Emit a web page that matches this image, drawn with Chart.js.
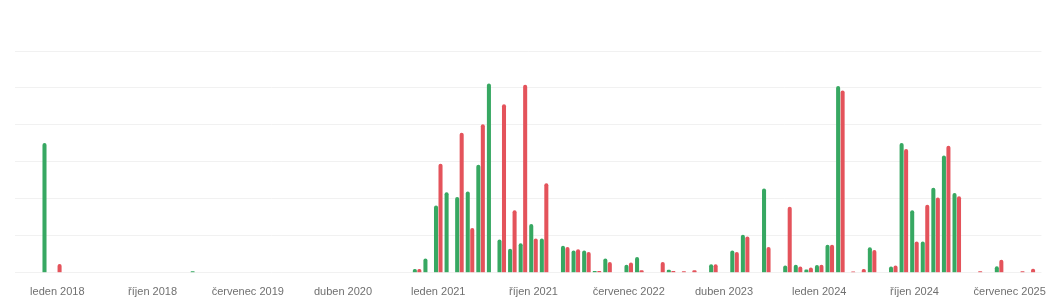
<!DOCTYPE html>
<html>
<head>
<meta charset="utf-8">
<script src="https://cdn.jsdelivr.net/npm/chart.js@4/dist/chart.umd.min.js"></script>
<style>
    body { margin: 0; background: #fff; }
    #wrap { width: 1050px; height: 303px; }
</style>
</head>
<body>
<div id="wrap"><canvas id="monthChart"></canvas></div>
<script>
const monthNames = ['leden', 'únor', 'březen', 'duben', 'květen', 'červen',
    'červenec', 'srpen', 'září', 'říjen', 'listopad', 'prosinec'];

// categories: prosinec 2017 ... září 2025
const months = ['prosinec 2017'];
for (let y = 2018; y <= 2025; y++) {
    for (let m = 0; m < 12; m++) {
        if (y === 2025 && m > 8) break;
        months.push(monthNames[m] + ' ' + y);
    }
}

const greenValues = [
    35.1,
    0, 0, 0, 0, 0, 0, 0, 0, 0, 0, 0, 0,
    0, 0.4, 0, 0, 0, 0, 0, 0, 0, 0, 0, 0,
    0, 0, 0, 0, 0, 0, 0, 0, 0, 0, 1.0, 3.9,
    18.2, 21.8, 20.5, 22.0, 29.2, 51.2, 9.0, 6.5, 8.0, 13.2, 9.3, 0,
    7.3, 6.0, 6.0, 0.5, 3.9, 0, 2.2, 4.3, 0, 0, 0.8, 0,
    0, 0, 2.3, 0, 6.0, 10.3, 0, 22.8, 0, 2.0, 2.2, 0.9,
    2.1, 7.6, 50.5, 0, 0, 6.9, 0, 1.7, 35.1, 16.9, 8.5, 23.0,
    31.7, 21.6, 0, 0, 0, 1.8, 0, 0, 0
];

const redValues = [
    0,
    2.4, 0, 0, 0, 0, 0, 0, 0, 0, 0, 0, 0,
    0, 0, 0, 0, 0, 0, 0, 0, 0, 0, 0, 0,
    0, 0, 0, 0, 0, 0, 0, 0, 0, 0, 1.0, 0,
    29.5, 0, 37.9, 12.1, 40.2, 0, 45.6, 16.9, 50.9, 9.3, 24.2, 0,
    7.0, 6.4, 5.6, 0.5, 2.9, 0, 2.8, 0.7, 0, 2.9, 0.5, 0.45,
    0.7, 0, 2.3, 0, 5.6, 9.8, 0, 7.0, 0, 17.9, 1.7, 1.4,
    2.2, 7.6, 49.3, 0.35, 1.0, 6.2, 0, 2.0, 33.5, 8.5, 18.4, 20.4,
    34.4, 20.7, 0, 0.45, 0, 3.5, 0, 0.45, 1.1
];

const tickLabels = ['leden 2018', 'říjen 2018', 'červenec 2019', 'duben 2020', 'leden 2021',
    'říjen 2021', 'červenec 2022', 'duben 2023', 'leden 2024', 'říjen 2024', 'červenec 2025'];

const toPoints = values => values.map((v, i) => ({ x: i, y: v }));

const ctx = document.getElementById('monthChart').getContext('2d');
const monthChart = new Chart(ctx, {
    type: 'bar',
    data: {
        datasets: [{
            data: toPoints(greenValues),
            backgroundColor: '#37a862',
            borderRadius: 2,
            categoryPercentage: 0.85,
            barPercentage: 0.9
        }, {
            data: toPoints(redValues),
            backgroundColor: '#e4535b',
            borderRadius: 2,
            categoryPercentage: 0.85,
            barPercentage: 0.9
        }]
    },
    options: {
        responsive: true,
        maintainAspectRatio: false,
        animation: false,
        layout: {
            padding: { top: 51, left: 15, right: 8, bottom: 0 }
        },
        scales: {
            x: {
                type: 'linear',
                offset: false,
                min: -3,
                max: 94,
                grid: { display: false, drawTicks: true, tickLength: 9 },
                border: { display: false },
                afterBuildTicks: axis => {
                    axis.ticks = tickLabels.map(t => ({ value: months.indexOf(t) }));
                },
                ticks: {
                    autoSkip: false,
                    maxRotation: 0,
                    padding: 4,
                    color: '#707070',
                    font: { family: 'Liberation Sans', size: 11 },
                    callback: value => months[value]
                }
            },
            y: {
                min: 0,
                max: 60,
                ticks: { display: false, stepSize: 10 },
                grid: { color: '#f1f1f1', drawTicks: false },
                border: { display: false }
            }
        },
        plugins: {
            legend: { display: false },
            tooltip: { enabled: false }
        }
    }
});
</script>
</body>
</html>
